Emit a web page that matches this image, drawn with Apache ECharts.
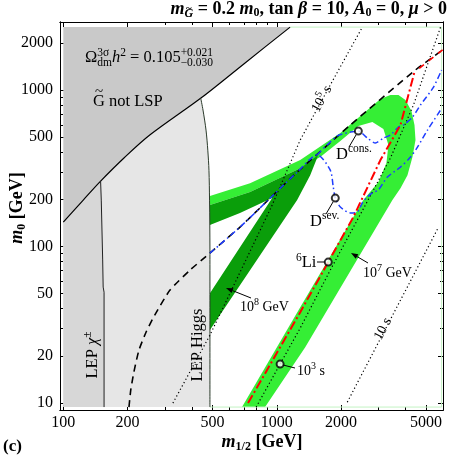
<!DOCTYPE html>
<html><head><meta charset="utf-8">
<script src="https://cdn.jsdelivr.net/npm/echarts@6/dist/echarts.min.js"></script>
<style>html,body{margin:0;padding:0;background:#fff}#c{width:450px;height:459px}</style>
</head><body><div id="c"></div>
<script>
// ===== DATA (all values: [m_1/2 in GeV, m_0 in GeV]) =====
const xTickLabels = [100, 200, 500, 1000, 2000, 5000];
const xMinorTicks = [300, 400, 600, 700, 800, 900, 3000, 4000];
const yTickLabels = [10, 20, 50, 100, 200, 500, 1000, 2000];
const yMinorTicks = [30, 40, 60, 70, 80, 90, 300, 400, 600, 700, 800, 900];
const xRange = [96.5, 6000];
const yRange = [9, 2727];
const scanTop = 2529, scanBottom = 9.4, scanLeft = 100, scanRight = 5910;

// stau / gravitino LSP boundary
const notLSPBoundary = [[100,143],[124,198],[148,258],[194,372],[254,516],[446,900],[710,1493],[1154,2529]];
// LEP chargino bound
const chiLine = [[149.5,262],[150.6,198],[152.9,82],[153.7,55],[155.2,51],[155.2,9.4]];
// LEP Higgs bound
const higgsLine = [[440,890],[451,746],[466,555],[475,413],[481,307],[484,198],[486,95],[486,9.4]];
// Omega_dm band, T_R = 10^7 GeV (light green)
const band7 = [[486,210],[749,254],[1287,357],[1983,531],[3055,877],[3404,930],[3712,930],[4003,864],[4271,735],[4412,598],[4460,480],[4317,373],[4090,286],[3793,236],[3478,198],[1358,22.7],[881,9.4],
  [687,9.4],[1287,40.9],[2543,198],[2990,258],[3260,342],[3331,445],[3156,564],[2802,625],[2408,589],[1983,472],[1597,373],[1287,317],[749,223],[486,184]];
// Omega_dm band, T_R = 10^8 GeV (dark green)
const band8 = [[486,184],[749,223],[1287,317],[1563,384],[1433,286],[1245,198],[486,29.2],[486,50.3],[951,204],[672,164],[486,137]];
// stau lifetime contours
const life1e5 = [[326,9.96],[486,27.1],[951,184],[1287,480],[1779,1078],[2515,2529]];
const life1e3 = [[800,9.4],[1036,17.7],[1287,30.1],[1779,70.6],[2598,184],[3404,368],[4364,803],[5844,2529]];
const life1e1 = [[2138,10.1],[5719,133]];
// m_stau = m_neutralino boundary (black dashed)
const stauNeutralino = [[203,9.4],[207,12.1],[214,15.7],[226,21.7],[244,28.3],[268,36.4],[316,52.6],[392,70.6],[486,90.7],[672,133],[910,198],[1245,299],[2209,598],[4459,1345],[5972,1806]];
// BBN constraints
const dSev = [[486,90.7],[672,133],[910,198],[1245,299],[1546,386],[1779,308],[1838,240],[1878,204],[1983,179],[2209,164],[2382,166],[2515,190],[2654,207],[2802,220],[2990,230],[3295,278],[3793,322],[4225,373],[4557,432],[5077,555],[5844,746]];
const dCons = [[1546,386],[1919,509],[2209,539],[2408,547],[2654,494],[2894,459],[3156,494],[3404,516],[3712,581],[3918,598],[4317,673],[4707,803],[5417,1046],[5908,1345]];
const li6 = [[733,9.96],[1287,38],[1741,79.5],[2281,154],[3055,357],[3793,598],[4412,1306]];
const li6Upper = [[4412,1306],[5972,1806]];
// labelled reference points
const markPoints = [[2408,547],[1878,204],[1741,79.5],[1036,17.7]];

// ===== CHART =====
const lg = Math.log10;
const P = p => [lg(p[0]), lg(p[1])];
const chart = echarts.init(document.getElementById('c'), null, {renderer: 'canvas'});

function poly(points, color, z) {
  return {
    type: 'custom', coordinateSystem: 'cartesian2d', z, silent: true, animation: false,
    data: [P(points[0])],
    renderItem: (params, api) => ({
      type: 'polygon',
      shape: {points: points.map(p => api.coord(P(p)))},
      style: {fill: color, stroke: null}
    })
  };
}
function line(points, color, width, type, z, extra) {
  return Object.assign({
    type: 'line', data: points.map(P), symbol: 'none', silent: true, animation: false, z,
    lineStyle: {color, width, type: type || 'solid', cap: 'butt'}
  }, extra || {});
}
const SERIF = '"Liberation Serif", "DejaVu Serif", serif';
function axesSet(dim, range, major, minor, posA, posB) {
  const base = {
    type: 'value', min: lg(range[0]), max: lg(range[1]),
    splitLine: {show: false},
    axisLine: {show: true, onZero: false, lineStyle: {color: '#000', width: 1}},
  };
  const mk = (pos, vals, len, labels) => Object.assign({}, base, {
    position: pos,
    axisTick: {show: true, inside: true, length: len, customValues: vals.map(lg), lineStyle: {color: '#000', width: 1}},
    axisLabel: labels ? {show: true, customValues: vals.map(lg), formatter: v => String(Math.round(Math.pow(10, v))),
      color: '#000', fontFamily: SERIF, fontSize: 16, margin: dim === 'x' ? 5 : 7} : {show: false}
  });
  return [mk(posA, major, 5, true), mk(posA, minor, 3, false), mk(posB, major, 5, false), mk(posB, minor, 3, false)];
}

const series = [
  poly([...notLSPBoundary, [scanLeft, scanTop]], '#c9c9c9', 1),
  poly([[scanLeft, scanBottom], ...notLSPBoundary.slice(0, 5), ...higgsLine], '#e6e6e6', 1),
  poly([[scanLeft, scanBottom], ...notLSPBoundary.slice(0, 3), ...chiLine], '#d7d7d7', 1),
  poly(band7, '#35ee35', 2),
  poly(band8, '#0a9e0a', 3),
  line([notLSPBoundary[notLSPBoundary.length - 1], [scanRight, scanTop], [scanRight, scanBottom], [486, scanBottom]], '#c4f3c4', 1, 'solid', 4),
  line(notLSPBoundary, '#000', 1.2, 'solid', 5, {smooth: 0.3}),
  line(chiLine, '#222', 1, 'solid', 5),
  line(higgsLine, '#2a3a2a', 1, 'solid', 5, {smooth: 0.3}),
  line(life1e5, '#000', 1.2, [1.2, 2.6], 6),
  line(life1e3, '#000', 1.2, [1.2, 2.6], 6),
  line(life1e1, '#000', 1.2, [1.2, 2.6], 6),
  line(stauNeutralino, '#000', 1.6, [7, 5], 7, {smooth: 0.2}),
  line(dSev, '#1e3cff', 1.5, [6, 3, 1.5, 3], 8, {smooth: 0.25}),
  line(dCons, '#1e3cff', 1.5, [6, 3, 1.5, 3], 8, {smooth: 0.25}),
  line(li6, '#ff0000', 2, [9, 3, 2, 3], 9),
  line(li6Upper, '#ff0000', 1.6, [6, 6], 9, {lineStyle: {color: '#ff0000', width: 1.6, type: [6, 6], dashOffset: 6}}),
  {type: 'scatter', data: markPoints.map(P), symbol: 'emptyCircle', symbolSize: 7, z: 10, silent: true, animation: false,
   itemStyle: {color: '#000', borderColor: '#000', borderWidth: 1}}
];

// ===== text helpers =====
const ctx = document.createElement('canvas').getContext('2d');
function W(t, f) { ctx.font = f; return ctx.measureText(t).width; }
function txt(t, f, x, y) {
  return {type: 'text', x, y, silent: true, z: 100,
    style: {text: t, font: f, fill: '#000', align: 'left', verticalAlign: 'middle', textAlign: 'left', textVerticalAlign: 'middle'}};
}
function run(items, x, y, align) {
  const ws = items.map(it => it.stack ? Math.max(W(it.stack[0], it.f), W(it.stack[1], it.f)) : W(it.t, it.f));
  const tot = ws.reduce((a, b) => a + b, 0);
  let cx = align === 'right' ? x - tot : align === 'center' ? x - tot / 2 : x;
  const els = [];
  items.forEach((it, i) => {
    if (it.stack) {
      els.push(txt(it.stack[0], it.f, cx, y + it.dy[0]));
      els.push(txt(it.stack[1], it.f, cx, y + it.dy[1]));
    } else {
      els.push(txt(it.t, it.f, cx, y + (it.dy || 0)));
      if (it.tilde !== undefined) els.push(txt('~', it.tf, cx + ws[i] / 2 - W('~', it.tf) / 2, y + (it.dy || 0) + it.tilde));
    }
    cx += ws[i];
  });
  return els;
}
function rot(items, x, y, ang) { return {type: 'group', x, y, rotation: ang, children: run(items, 0, 0, 'center')}; }
function seg(x1, y1, x2, y2) { return {type: 'line', shape: {x1, y1, x2, y2}, style: {stroke: '#000', lineWidth: 1}, silent: true, z: 100}; }
function arrow(x1, y1, x2, y2) {
  const a = Math.atan2(y2 - y1, x2 - x1), L = 7, h = 2.6;
  const bx = x2 - L * Math.cos(a), by = y2 - L * Math.sin(a);
  return [seg(x1, y1, bx, by), {type: 'polygon', silent: true, z: 100,
    shape: {points: [[x2, y2], [bx + h * Math.sin(a), by - h * Math.cos(a)], [bx - h * Math.sin(a), by + h * Math.cos(a)]]},
    style: {fill: '#000'}}];
}
const f = (s, st) => (st || '') + ' ' + s + 'px ' + SERIF;
const BI = 'italic bold 18px ' + SERIF, B = 'bold 18px ' + SERIF, BS = 'bold 12px ' + SERIF, BIS = 'italic bold 12px ' + SERIF;
const R = f(16.5), RS = f(11.5), RI = 'italic 16.5px ' + SERIF;

const graphics = [
  ...run([{t: 'm', f: BI}, {t: 'G', f: BIS, dy: 5, tilde: -6, tf: 'bold 11px ' + SERIF}, {t: ' = 0.2 ', f: B}, {t: 'm', f: BI}, {t: '0', f: BS, dy: 4},
          {t: ', tan ', f: B}, {t: 'β', f: BI}, {t: ' = 10, ', f: B}, {t: 'A', f: BI}, {t: '0', f: BS, dy: 4},
          {t: ' = 0, ', f: B}, {t: 'μ', f: BI}, {t: ' > 0', f: B}], 447, 9, 'right'),
  ...run([{t: 'm', f: BI}, {t: '1/2', f: BS, dy: 5}, {t: ' [GeV]', f: B}], 262, 442, 'center'),
  rot([{t: 'm', f: BI}, {t: '0', f: BS, dy: 5}, {t: ' [GeV]', f: B}], 17, 208, Math.PI / 2),
  ...run([{t: '(c)', f: 'bold 17px ' + SERIF}], 3, 447, 'left'),
  ...run([{t: 'Ω', f: R}, {stack: ['3σ', 'dm'], f: RS, dy: [-5, 5]}, {t: 'h', f: RI}, {t: '2', f: RS, dy: -5}, {t: ' = 0.105', f: R},
          {stack: ['+0.021', '−0.030'], f: RS, dy: [-5, 5]}], 85, 58, 'left'),
  ...run([{t: 'G', f: R, tilde: -10, tf: f(15)}, {t: ' not LSP', f: R}], 93, 102, 'left'),
  rot([{t: 'LEP ', f: R}, {t: 'χ', f: RI}, {t: '±', f: RS, dy: -5}], 93, 355, Math.PI / 2),
  rot([{t: 'LEP Higgs', f: R}], 198, 345, Math.PI / 2),
  rot([{t: '10', f: f(14)}, {t: '5', f: f(10), dy: -5}, {t: ' s', f: f(14)}], 322, 99, Math.atan(1.8)),
  rot([{t: '10 s', f: f(14)}], 383, 329, Math.atan(1.92)),
  ...run([{t: 'D', f: R}, {t: 'cons.', f: RS, dy: -6}], 336, 155, 'left'),
  seg(356, 135, 349, 147),
  ...run([{t: 'D', f: R}, {t: 'sev.', f: RS, dy: -6}], 310, 222, 'left'),
  seg(333, 202, 326, 214),
  ...run([{t: '6', f: RS, dy: -5}, {t: 'Li', f: R}], 296, 263, 'left'),
  seg(325, 262, 317, 262),
  ...run([{t: '10', f: f(14)}, {t: '3', f: f(10), dy: -5}, {t: ' s', f: f(14)}], 297, 371, 'left'),
  seg(283, 365, 295, 368),
  ...run([{t: '10', f: f(14)}, {t: '7', f: f(10), dy: -5}, {t: ' GeV', f: f(14)}], 363, 273, 'left'),
  ...arrow(368, 263, 351, 253),
  ...run([{t: '10', f: f(14)}, {t: '8', f: f(10), dy: -5}, {t: ' GeV', f: f(14)}], 240, 307, 'left'),
  ...arrow(251, 298, 226, 288)
];

chart.setOption({
  animation: false,
  backgroundColor: '#fff',
  grid: {left: 60, right: 7, top: 22, bottom: 49},
  xAxis: axesSet('x', xRange, xTickLabels, xMinorTicks, 'bottom', 'top'),
  yAxis: axesSet('y', yRange, yTickLabels, yMinorTicks, 'left', 'right'),
  series,
  graphic: graphics
});
</script></body></html>
